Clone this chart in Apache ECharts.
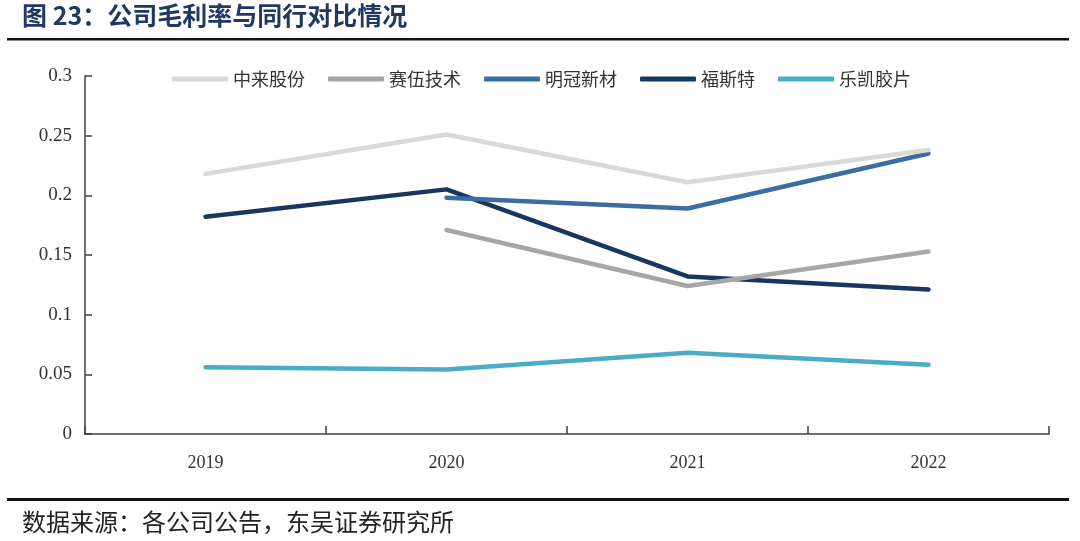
<!DOCTYPE html>
<html>
<head>
<meta charset="utf-8">
<script src="https://cdn.jsdelivr.net/npm/echarts@6/dist/echarts.min.js"></script>
<style>
html,body{margin:0;padding:0;background:#fff;}
#c{width:1080px;height:541px;}
</style>
</head>
<body>
<div id="c"></div>
<script>
var categories = ['2019', '2020', '2021', '2022'];
var seriesNames = ['中来股份', '赛伍技术', '明冠新材', '福斯特', '乐凯胶片'];
var zhonglai = [0.218, 0.251, 0.211, 0.238];
var saiwu = [null, 0.171, 0.124, 0.153];
var mingguan = [null, 0.198, 0.189, 0.235];
var fusite = [0.182, 0.205, 0.132, 0.121];
var lekai = [0.056, 0.054, 0.068, 0.058];
var yTicks = [0, 0.05, 0.1, 0.15, 0.2, 0.25, 0.3];

var colors = ['#d9d9d9', '#a6a6a6', '#3d6ca3', '#17375e', '#4bacc6'];
var dataList = [zhonglai, saiwu, mingguan, fusite, lekai];

var chart = echarts.init(document.getElementById('c'));
var series = seriesNames.map(function (n, i) {
  return {
    name: n, type: 'line', data: dataList[i],
    symbol: 'none', smooth: false,
    lineStyle: { width: 4.5, color: colors[i], cap: 'round' },
    itemStyle: { color: colors[i] },
    z: 10 - i
  };
});
chart.setOption({
  animation: false,
  title: {
    text: '图 23：公司毛利率与同行对比情况',
    left: 22, top: 3, padding: 0,
    textStyle: { fontFamily: 'Noto Sans CJK SC', fontWeight: 'bold', fontSize: 25, color: '#1f3864' }
  },
  graphic: [
    { type: 'rect', shape: { x: 7, y: 38, width: 1062, height: 2.5 }, style: { fill: '#111' } },
    { type: 'rect', shape: { x: 7, y: 498, width: 1062, height: 3 }, style: { fill: '#111' } },
    { type: 'text', left: 22, top: 510, style: { text: '数据来源：各公司公告，东吴证券研究所', fontFamily: 'Noto Sans CJK SC', fontSize: 24, fill: '#222' } }
  ],
  legend: {
    top: 65, left: 167,
    itemWidth: 56, itemHeight: 5, itemGap: 23,
    icon: 'roundRect',
    textStyle: { fontFamily: 'Noto Sans CJK SC', fontSize: 18, color: '#333' },
    data: seriesNames
  },
  grid: { left: 85, right: 31, top: 76, bottom: 107, containLabel: false },
  xAxis: {
    type: 'category', data: categories, boundaryGap: true,
    axisLine: { lineStyle: { color: '#404040', width: 1.5 } },
    axisTick: { show: true, inside: true, length: 8, alignWithLabel: false, lineStyle: { color: '#404040', width: 1.5 } },
    axisLabel: { margin: 20, fontFamily: 'Liberation Serif', fontSize: 18, color: '#333' }
  },
  yAxis: {
    type: 'value', min: 0, max: 0.3, interval: 0.05,
    splitLine: { show: false },
    axisLine: { show: true, lineStyle: { color: '#404040', width: 1.5 } },
    axisTick: { show: true, inside: true, length: 7, lineStyle: { color: '#404040', width: 1.5 } },
    axisLabel: {
      margin: 13, fontFamily: 'Liberation Serif', fontSize: 19, color: '#333',
      formatter: function (v) { return String(parseFloat(v.toFixed(2))); }
    }
  },
  series: series
});
</script>
</body>
</html>
